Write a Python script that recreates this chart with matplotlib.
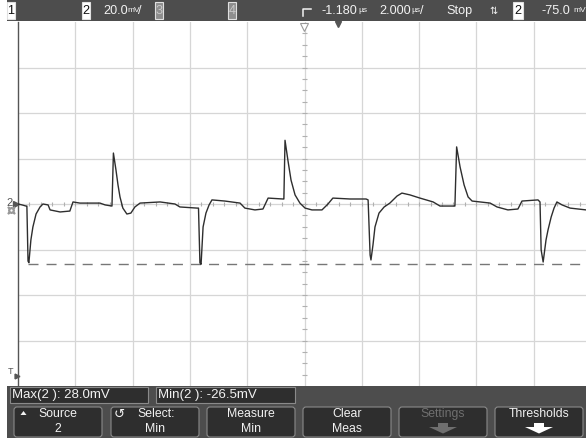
import matplotlib
matplotlib.use("Agg")
import matplotlib.pyplot as plt
from matplotlib.patches import Rectangle, FancyBboxPatch, Polygon
from matplotlib.lines import Line2D
import matplotlib.transforms as mtransforms

# ---------------- data ----------------
# channel 2 trace: time in microseconds, voltage in millivolts
time_us = [-11.18, -11.04, -10.90, -10.87, -10.83, -10.80, -10.73, -10.66, -10.55, -10.41,
           -10.31, -10.13, -10.06, -9.71, -9.37, -9.26, -9.02, -8.32, -8.14, -7.90,
           -7.85, -7.76, -7.69, -7.62, -7.52, -7.38, -7.24, -7.10, -6.92, -6.22,
           -5.70, -5.53, -4.93, -4.88, -4.83, -4.79, -4.72, -4.62, -4.51, -4.41,
           -3.96, -3.43, -3.26, -2.91, -2.63, -2.45, -1.93, -1.90, -1.86, -1.76,
           -1.65, -1.51, -1.34, -1.16, -0.92, -0.57, -0.36, -0.19, 0.41, 0.97,
           1.04, 1.11, 1.14, 1.21, 1.28, 1.42, 1.60, 1.80, 2.05, 2.22,
           2.50, 2.85, 3.31, 3.55, 4.04, 4.07, 4.13, 4.25, 4.39, 4.53,
           4.67, 5.30, 5.54, 5.92, 6.27, 6.41, 6.97, 7.04, 7.08, 7.15,
           7.25, 7.32, 7.43, 7.53, 7.63, 7.81, 8.09, 8.65]
trace_mv = [0.0, -0.4, -0.9, -0.9, -25.1, -25.8, -15.8, -10.1, -4.4, -1.3,
            0.0, -0.4, -2.6, -3.5, -3.1, 0.9, 0.4, 0.4, -0.4, -0.9,
            22.4, 14.9, 8.4, 3.1, -1.8, -4.4, -4.0, -1.3, 0.4, 0.9,
            0.0, -1.3, -1.8, -1.8, -25.9, -26.5, -10.1, -4.0, -0.4, 1.8,
            1.3, 0.4, -1.8, -2.6, -2.2, 2.6, 2.2, 2.2, 28.0, 19.3,
            10.5, 4.0, 0.4, -1.8, -2.6, -2.6, 0.0, 2.6, 2.2, 2.2,
            1.8, -22.4, -24.6, -18.0, -10.1, -4.0, -1.3, 0.4, 3.5, 4.8,
            4.0, 2.6, 0.9, -0.9, -0.9, -0.9, 25.1, 16.3, 8.4, 3.1,
            1.3, 0.4, -1.3, -2.6, -2.2, 1.3, 1.8, 0.9, -20.2, -25.5,
            -15.8, -11.4, -5.7, -1.8, 0.9, -0.4, -1.8, -2.6]
assert len(time_us) == len(trace_mv)

volts_per_div = 20.0        # mV / div
time_per_div = 2.0          # us / div
delay_us = -1.180           # horizontal delay (screen centre)
trigger_level_mv = -75.0
max_mv = 28.0
min_mv = -26.5
min_cursor_start_us = -10.83

header_items = ["1", "2", "3", "4"]
header_scale = ("20.0", "mV", "/")
header_delay = ("-1.180", "µs")
header_time = ("2.000", "µs", "/")
header_run = "Stop"
header_trig = ("2", "-75.0", "mV")
meas_labels = ["Max(2 ): 28.0mV", "Min(2 ): -26.5mV"]
buttons = [("Source", "2"), ("Select:", "Min"), ("Measure", "Min"),
           ("Clear", "Meas"), ("Settings", ""), ("Thresholds", "")]

# ---------------- figure ----------------
W, H = 586, 438
FONT = ["Liberation Sans Narrow", "Liberation Sans", "DejaVu Sans"]
plt.rcParams["font.family"] = FONT
fig = plt.figure(figsize=(W / 100, H / 100), dpi=100)
fig.patch.set_facecolor("white")

# graticule axes: left edge px 18 .. right px 586, top px 22 .. bottom px 386
L, R, T, B = 18, 586, 22, 386
ax = fig.add_axes([L / W, 1 - B / H, (R - L) / W, (B - T) / H])
px_per_div_x = 57.3
x0 = delay_us - 5 * time_per_div
x1 = x0 + (R - L) / px_per_div_x * time_per_div
ax.set_xlim(x0, x1)
ax.set_ylim(-4 * volts_per_div, 4 * volts_per_div)
ax.set_facecolor("white")
for s in ["top", "right", "bottom"]:
    ax.spines[s].set_visible(False)
ax.spines["left"].set_color("#555555")
ax.spines["left"].set_linewidth(1.0)
ax.set_xticks([])
ax.set_yticks([])

grid_c = "#d6d6d6"
for k in range(1, 10):
    ax.axvline(x0 + k * time_per_div, color=grid_c, lw=0.9, zorder=1)
for k in range(-3, 4):
    ax.axhline(k * volts_per_div, color=grid_c, lw=0.9, zorder=1)

# minor ticks on the centre lines
tick_t = [x0 + i * time_per_div / 5 for i in range(1, 50)]
ax.vlines(tick_t, -0.9, 0.9, color="#b0b0b0", lw=0.8, zorder=1.5)
tick_v = [-80 + i * volts_per_div / 4 for i in range(1, 32)]
ax.hlines(tick_v, delay_us - 0.07, delay_us + 0.07, color="#b0b0b0", lw=0.8, zorder=1.5)

# min cursor (dashed)
ax.hlines(min_mv, min_cursor_start_us, x1, color="#777777", lw=1.0,
          linestyles=(0, (7.2, 5.8)), zorder=2)

# trace
ax.plot(time_us, trace_mv, color="#2e2e2e", lw=1.0, zorder=3)

# trigger-point marker (t = 0) just below header
ax.plot([0.0], [79.2], marker="v", markersize=4.5, color="#555555",
        clip_on=False, zorder=4)
# delay marker at centre (hollow)
ax.plot([delay_us], [78.0], marker="v", markersize=6, markerfacecolor="white",
        markeredgecolor="#999999", markeredgewidth=0.8, clip_on=False, zorder=4)

# left-side markers (ground level, trigger level)
blend = mtransforms.blended_transform_factory(fig.transFigure, ax.transData)
fig.text(6 / W, 0.3, "2", transform=blend, ha="left", va="center",
         fontsize=8, color="#555555")
fig.text(8 / W, trigger_level_mv + 1.5, "T", transform=blend, ha="left", va="center",
         fontsize=6.5, color="#555555")
ax.plot([x0 - 0.06], [0.0], marker=">", markersize=4, color="#555555", clip_on=False)
ax.plot([x0 - 0.04], [trigger_level_mv - 0.5], marker=">", markersize=3.5,
        color="#555555", clip_on=False)
ax.plot([x0 - 0.25], [-2.8], marker="$\u23da$", markersize=5, color="#999999",
        clip_on=False)

# ---------------- UI overlay in pixel coordinates ----------------
ui = fig.add_axes([0, 0, 1, 1])
ui.set_xlim(0, W)
ui.set_ylim(H, 0)
ui.axis("off")
ui.patch.set_alpha(0)

bar_c = "#4d4d4d"
ui.add_patch(Rectangle((7, 0), W - 7, 21, color=bar_c, lw=0))
ui.add_patch(Rectangle((7, 386), W - 7, H - 386, color=bar_c, lw=0))

hy = 10.7
hfs = 9.1
ufs = 6.0
white = "#f2f2f2"

# channel boxes
box_x = [7, 82, 155, 228]
for i, (lab, bx) in enumerate(zip(header_items, box_x)):
    on = i < 2
    ui.add_patch(Rectangle((bx, 2), 8, 17, facecolor="white" if on else "#8e8e8e",
                           edgecolor="#e0e0e0", lw=0.8))
    ui.text(bx + 4, hy, lab, ha="center", va="center", fontsize=hfs,
            color="#111111" if on else "#c8c8c8")

ui.text(103, hy, header_scale[0], ha="left", va="center", fontsize=hfs, color=white)
ui.text(127, hy, header_scale[1], ha="left", va="center", fontsize=ufs, color=white)
ui.text(138.5, hy, header_scale[2], ha="left", va="center", fontsize=hfs, color=white)

# trigger delay icon
ui.add_line(Line2D([303, 303, 311], [16, 9, 9], color=white, lw=1.1))
ui.text(322, hy, header_delay[0], ha="left", va="center", fontsize=hfs, color=white)
ui.text(358, hy, header_delay[1], ha="left", va="center", fontsize=ufs, color=white)
ui.text(379, hy, header_time[0], ha="left", va="center", fontsize=hfs, color=white)
ui.text(411, hy, header_time[1], ha="left", va="center", fontsize=ufs, color=white)
ui.text(420, hy, header_time[2], ha="left", va="center", fontsize=hfs, color=white)
ui.text(446, hy, header_run, ha="left", va="center", fontsize=hfs, color=white)
ui.text(489, hy, "\u21c5", ha="left", va="center", fontsize=7, color=white,
        family=["DejaVu Sans"])
ui.add_patch(Rectangle((513, 2), 10, 17, facecolor="white", edgecolor="#e0e0e0", lw=0.8))
ui.text(518, hy, header_trig[0], ha="center", va="center", fontsize=hfs, color="#111111")
ui.text(542, hy, header_trig[1], ha="left", va="center", fontsize=hfs, color=white)
ui.text(573, hy, header_trig[2], ha="left", va="center", fontsize=ufs, color=white)

# measurement row
mfs = 9.5
for (bx0, bx1), lab in zip([(10, 148), (156, 295)], meas_labels):
    ui.add_patch(Rectangle((bx0, 387), bx1 - bx0, 16, facecolor="#2e2e2e",
                           edgecolor="#8a8a8a", lw=0.8))
    ui.text(bx0 + 2, 395.3, lab, ha="left", va="center", fontsize=mfs, color=white)

# soft-key buttons
btn_x = [14, 111, 207, 303, 399, 495]
for i, ((l1, l2), bx) in enumerate(zip(buttons, btn_x)):
    ui.add_patch(FancyBboxPatch((bx, 407), 88, 30,
                                boxstyle="round,pad=0,rounding_size=3",
                                facecolor="#2e2e2e", edgecolor="#8a8a8a", lw=0.8))
    cx = bx + 44
    col = "#6f6f6f" if l1 == "Settings" else white
    ui.text(cx + (1 if i == 1 else 0), 414, l1, ha="center", va="center",
            fontsize=8.8, color=col)
    if l2:
        ui.text(cx, 428.5, l2, ha="center", va="center", fontsize=8.8, color=col)
    if l1 in ("Settings", "Thresholds"):
        ac = "#6f6f6f" if l1 == "Settings" else "white"
        ui.add_patch(Polygon([(cx - 5, 423), (cx + 5, 423), (cx + 5, 427),
                              (cx + 14, 427), (cx, 433.5), (cx - 14, 427),
                              (cx - 5, 427)], closed=True, color=ac, lw=0))

# small icons on Source / Select buttons
ui.add_patch(Polygon([(20.5, 415), (26.5, 415), (23.5, 411)], closed=True,
                     color=white, lw=0))
ui.text(119, 414.5, "\u21ba", ha="center", va="center", fontsize=9.5, color=white,
        family=["DejaVu Sans"])

fig.savefig("out.png", dpi=100)
